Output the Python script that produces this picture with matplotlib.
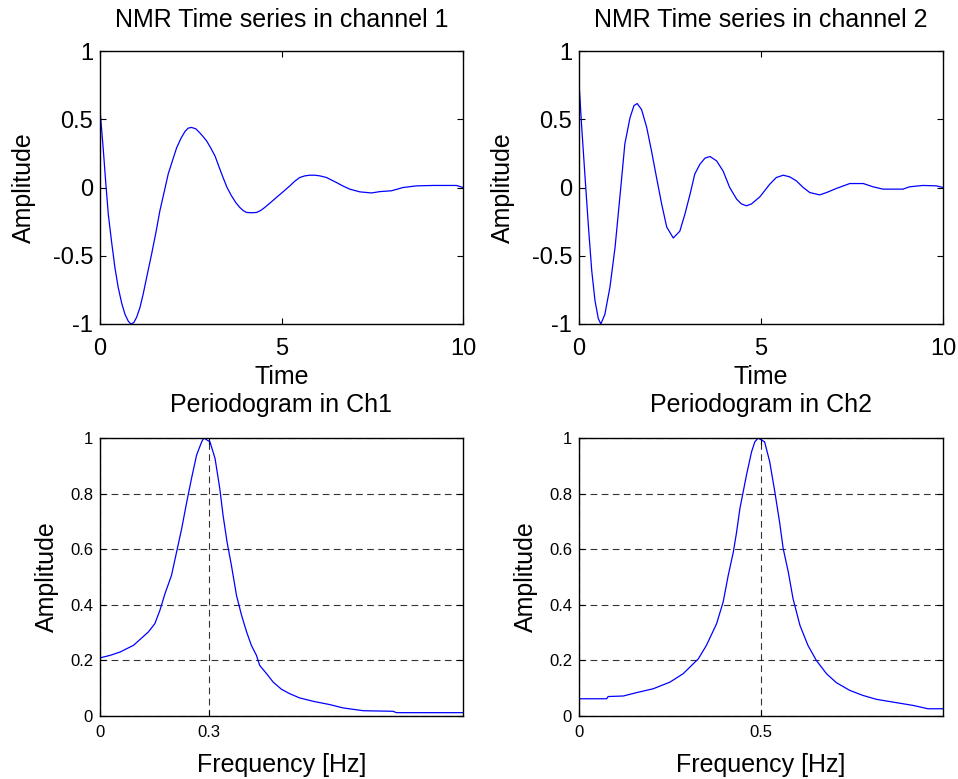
import numpy as np
import matplotlib
matplotlib.use('Agg')
import matplotlib.pyplot as plt

# time series
t1 = [0, 0.09, 0.16, 0.23, 0.32, 0.41, 0.5, 0.6, 0.69, 0.78, 0.85, 0.93, 1.01, 1.1, 1.19, 1.3, 1.42, 1.54, 1.65, 1.77, 1.88,
      2.0, 2.11, 2.23, 2.34, 2.43, 2.52, 2.64, 2.75, 2.85, 2.94, 3.05, 3.17, 3.28, 3.39, 3.5, 3.62, 3.74, 3.85, 3.95, 4.04,
      4.18, 4.31, 4.43, 4.54, 4.7, 4.86, 5.05, 5.23, 5.36, 5.5, 5.64, 5.78, 5.92, 6.06, 6.24, 6.51, 6.7, 6.88, 7.16, 7.48,
      7.71, 8.03, 8.35, 8.72, 9.17, 9.5, 9.82, 10.0]
y1 = [0.57, 0.28, 0.03, -0.2, -0.4, -0.585, -0.73, -0.85, -0.93, -0.98, -1.0, -0.99, -0.95, -0.88, -0.78, -0.64, -0.49,
      -0.33, -0.17, -0.03, 0.1, 0.2, 0.29, 0.36, 0.41, 0.435, 0.44, 0.43, 0.4, 0.37, 0.34, 0.29, 0.23, 0.15, 0.073, 0.0,
      -0.06, -0.11, -0.146, -0.17, -0.183, -0.185, -0.183, -0.168, -0.146, -0.11, -0.073, -0.03, 0.012, 0.045, 0.073,
      0.085, 0.09, 0.09, 0.085, 0.073, 0.037, 0.01, -0.012, -0.032, -0.04, -0.03, -0.024, 0.0, 0.012, 0.015, 0.015, 0.015, 0.0]

t2 = [0, 0.07, 0.16, 0.26, 0.35, 0.44, 0.53, 0.6, 0.71, 0.85, 0.99, 1.13, 1.26, 1.4, 1.51, 1.6, 1.72, 1.86, 1.99, 2.13,
      2.27, 2.41, 2.5, 2.59, 2.77, 2.91, 3.05, 3.18, 3.32, 3.46, 3.6, 3.78, 3.96, 4.14, 4.33, 4.46, 4.6, 4.74, 4.97, 5.24,
      5.42, 5.61, 5.79, 5.97, 6.16, 6.34, 6.61, 6.8, 7.07, 7.44, 7.81, 8.08, 8.35, 8.9, 9.08, 9.45, 9.82, 10.0]
y2 = [0.77, 0.46, 0.1, -0.29, -0.61, -0.83, -0.96, -1.0, -0.93, -0.73, -0.44, -0.05, 0.32, 0.51, 0.6, 0.615, 0.57, 0.44,
      0.27, 0.073, -0.12, -0.29, -0.33, -0.37, -0.32, -0.195, -0.05, 0.098, 0.17, 0.215, 0.227, 0.195, 0.12, 0.0, -0.085,
      -0.12, -0.134, -0.12, -0.068, 0.024, 0.073, 0.09, 0.078, 0.049, 0.0, -0.037, -0.054, -0.037, -0.007, 0.029, 0.029,
      0.005, -0.012, -0.012, 0.005, 0.015, 0.012, 0.0]

# periodograms
f1 = [0, 0.0275, 0.055, 0.092, 0.133, 0.151, 0.165, 0.179, 0.197, 0.211, 0.225, 0.239, 0.252, 0.266, 0.28, 0.286,
      0.303, 0.317, 0.33, 0.339, 0.35, 0.362, 0.376, 0.39, 0.404, 0.417, 0.431, 0.44, 0.459, 0.477, 0.5, 0.523, 0.55,
      0.587, 0.633, 0.67, 0.725, 0.807, 0.817, 1.0]
p1 = [0.209, 0.218, 0.23, 0.254, 0.302, 0.332, 0.38, 0.44, 0.506, 0.59, 0.674, 0.77, 0.854, 0.938, 0.986, 1.0,
      0.986, 0.926, 0.818, 0.722, 0.626, 0.542, 0.434, 0.362, 0.302, 0.254, 0.218, 0.182, 0.152, 0.122, 0.096, 0.08,
      0.065, 0.053, 0.041, 0.029, 0.019, 0.017, 0.012, 0.012]

f2 = [0, 0.076, 0.08, 0.122, 0.158, 0.204, 0.25, 0.286, 0.328, 0.35, 0.378, 0.396, 0.41, 0.424, 0.433, 0.442, 0.451,
      0.46, 0.474, 0.483, 0.492, 0.51, 0.524, 0.538, 0.551, 0.561, 0.575, 0.588, 0.607, 0.629, 0.652, 0.68, 0.707,
      0.744, 0.78, 0.817, 0.872, 0.918, 0.959, 1.0]
p2 = [0.062, 0.062, 0.07, 0.072, 0.084, 0.098, 0.122, 0.152, 0.206, 0.254, 0.332, 0.41, 0.506, 0.59, 0.662, 0.746,
      0.806, 0.866, 0.95, 0.986, 1.0, 0.986, 0.914, 0.806, 0.698, 0.602, 0.518, 0.422, 0.326, 0.254, 0.2, 0.152, 0.12,
      0.092, 0.074, 0.06, 0.048, 0.038, 0.026, 0.026]

plt.rcParams['font.family'] = ['Liberation Sans', 'DejaVu Sans']
plt.rcParams['axes.unicode_minus'] = False

fig = plt.figure(figsize=(9.58, 7.79), dpi=100)
W, H = 958.0, 779.0

def box(l, t, r, b):
    return [l / W, 1 - b / H, (r - l) / W, (b - t) / H]

def style(ax, size, xpad, ypad):
    ax.tick_params(direction='in', length=4, width=0.8, top=True, right=True, labelsize=size)
    ax.tick_params(axis='x', pad=xpad)
    ax.tick_params(axis='y', pad=ypad)
    for s in ax.spines.values():
        s.set_linewidth(1.0)

axes_top = [fig.add_axes(box(100, 51, 463, 324)), fig.add_axes(box(579, 51, 943, 324))]
axes_bot = [fig.add_axes(box(100, 438, 463, 716)), fig.add_axes(box(579, 438, 943, 716))]

for i, (ax, t, y) in enumerate(zip(axes_top, [t1, t2], [y1, y2])):
    ax.plot(t, y, color='blue', linewidth=0.9)
    ax.set_xlim(0, 10)
    ax.set_ylim(-1, 1)
    ax.set_xticks([0, 5, 10])
    ax.set_xticklabels(['0', '5', '10'])
    ax.set_yticks([-1, -0.5, 0, 0.5, 1])
    ax.set_yticklabels(['-1', '-0.5', '0', '0.5', '1'])
    style(ax, 17, 10, 5)
    ax.set_title('NMR Time series in channel %d' % (i + 1), fontsize=18, pad=17)
    ax.set_xlabel('Time', fontsize=18, labelpad=4)
    ax.set_ylabel('Amplitude', fontsize=18, labelpad=12)

peaks = [0.3, 0.5]
for i, (ax, f, p) in enumerate(zip(axes_bot, [f1, f2], [p1, p2])):
    ax.plot(f, p, color='blue', linewidth=0.9)
    ax.set_xlim(0, 1)
    ax.set_ylim(0, 1)
    ax.set_xticks([0, peaks[i]])
    ax.set_xticklabels(['0', str(peaks[i])])
    ax.set_yticks([0, 0.2, 0.4, 0.6, 0.8, 1])
    ax.set_yticklabels(['0', '0.2', '0.4', '0.6', '0.8', '1'])
    ax.grid(True, color='black', linestyle=(0, (6, 4)), linewidth=0.8, alpha=0.8)
    style(ax, 12, 6.5, 5)
    ax.set_title('Periodogram in Ch%d' % (i + 1), fontsize=18, pad=19)
    ax.set_xlabel('Frequency [Hz]', fontsize=18, labelpad=9)
    ax.set_ylabel('Amplitude', fontsize=18, labelpad=8)

plt.savefig('out.png', dpi=100)
plt.close()
